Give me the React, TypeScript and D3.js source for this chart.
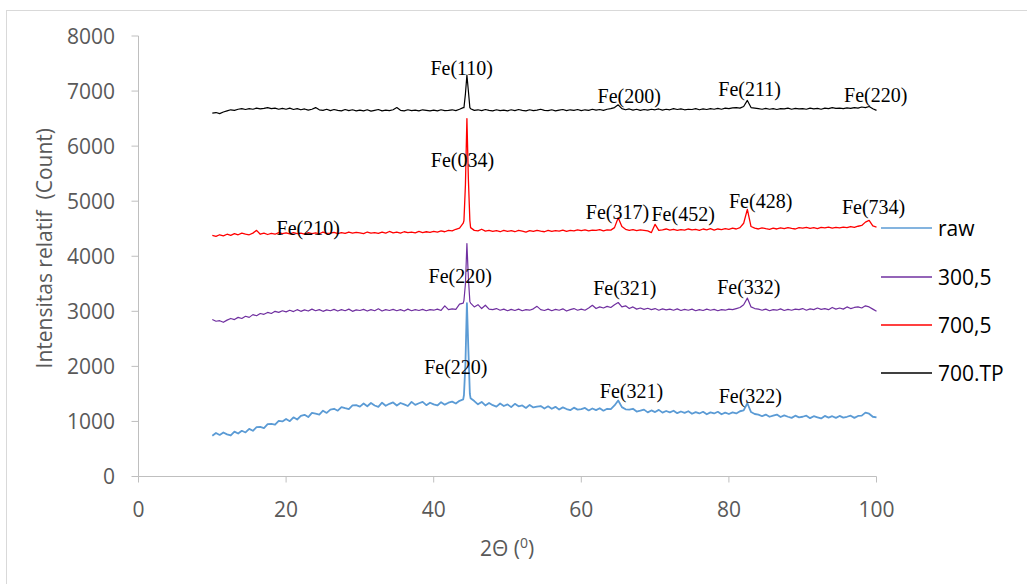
import React from "react";
import * as d3 from "d3";

// 2θ grid: 10 → 100 in 0.5° steps
const THETA_START = 10;
const THETA_STEP = 0.5;

const rawBase = [
  740,790,755,800,765,745,815,780,830,800,
  865,830,895,900,880,950,955,940,1010,1000,
  1045,1005,1075,1035,1100,1120,1080,1155,1140,1125,
  1195,1155,1215,1230,1195,1260,1240,1225,1290,1295,
  1270,1325,1275,1335,1290,1265,1340,1285,1320,1345,
  1290,1335,1310,1280,1355,1300,1330,1355,1295,1340,
  1310,1290,1350,1305,1340,1360,1325,1375,1400,1450,
  1420,1370,1310,1355,1290,1335,1295,1270,1325,1280,
  1310,1260,1320,1275,1290,1245,1300,1255,1270,1280,
  1235,1275,1230,1265,1215,1255,1225,1205,1250,1215,
  1225,1245,1200,1235,1205,1240,1195,1230,1225,1290,
  1380,1260,1220,1215,1230,1180,1195,1215,1165,1200,
  1170,1210,1160,1190,1165,1195,1150,1180,1155,1185,
  1140,1170,1145,1175,1130,1165,1145,1175,1130,1160,
  1135,1165,1145,1185,1200,1330,1170,1135,1125,1095,
  1125,1085,1105,1125,1080,1110,1085,1065,1105,1075,
  1085,1105,1060,1095,1075,1055,1100,1070,1095,1065,
  1100,1070,1085,1105,1065,1100,1105,1160,1140,1085,
  1075,
];
const rawPeak: [number, number][] = [[44.1,1480],[44.3,2050],[44.5,3150],[44.7,2300],[44.9,1500]];

const s300Base = [
  2850,2820,2830,2800,2840,2870,2850,2890,2870,2910,
  2890,2940,2920,2960,2945,2980,2960,3000,2980,3010,
  2990,3020,2995,3030,3000,3025,3005,3040,3010,3030,
  3000,3025,3010,3035,3005,3030,3010,3040,3000,3025,
  3015,3035,3005,3030,3010,3045,3005,3030,3015,3035,
  3010,3030,3005,3040,3010,3030,3015,3035,3010,3030,
  3020,3040,3015,3100,3030,3045,3035,3130,3150,3400,
  3150,3080,3120,3050,3110,3040,3030,3050,3020,3040,
  3010,3035,3015,3040,3010,3030,3020,3045,3090,3030,
  3015,3040,3010,3035,3020,3045,3005,3030,3050,3020,
  3040,3020,3060,3110,3050,3080,3060,3090,3070,3120,
  3160,3080,3100,3050,3080,3040,3060,3035,3055,3030,
  3050,3020,3045,3025,3040,3020,3045,3015,3035,3020,
  3040,3010,3030,3015,3040,3020,3035,3010,3030,3020,
  3040,3030,3050,3070,3120,3240,3080,3050,3040,3020,
  3040,3010,3030,3020,3045,3015,3035,3020,3040,3030,
  3050,3020,3045,3030,3060,3035,3050,3030,3070,3040,
  3060,3040,3080,3050,3070,3080,3060,3100,3080,3040,
  3000,
];
const s300Peak: [number, number][] = [[44.1,3200],[44.3,3500],[44.5,4230],[44.7,3600],[44.9,3180]];

const s700Base = [
  4380,4360,4390,4370,4400,4380,4410,4390,4420,4400,
  4390,4420,4470,4400,4420,4395,4415,4400,4430,4410,
  4425,4405,4430,4410,4420,4400,4430,4410,4425,4405,
  4440,4415,4420,4435,4410,4430,4415,4440,4420,4435,
  4425,4410,4440,4420,4430,4415,4440,4420,4450,4425,
  4440,4420,4445,4430,4440,4425,4450,4430,4445,4435,
  4450,4440,4460,4445,4470,4460,4490,4510,4600,4700,
  4520,4470,4460,4490,4455,4470,4450,4465,4445,4470,
  4450,4465,4445,4470,4455,4440,4465,4450,4470,4455,
  4445,4470,4450,4465,4455,4475,4450,4470,4460,4480,
  4465,4480,4460,4475,4470,4485,4460,4480,4475,4520,
  4700,4540,4490,4470,4485,4465,4480,4470,4460,4430,
  4580,4470,4480,4495,4475,4490,4470,4485,4475,4495,
  4480,4490,4470,4495,4480,4500,4475,4495,4485,4500,
  4490,4510,4495,4520,4600,4850,4540,4510,4495,4515,
  4500,4490,4510,4495,4515,4500,4520,4505,4495,4520,
  4510,4525,4505,4520,4500,4525,4515,4530,4510,4525,
  4515,4530,4520,4540,4525,4545,4560,4620,4650,4550,
  4530,
];
const s700Peak: [number, number][] = [[44.1,4650],[44.3,5300],[44.5,6500],[44.7,5400],[44.9,4650]];

const tpBase = [
  6600,6610,6590,6620,6640,6660,6650,6670,6680,6665,
  6680,6670,6690,6675,6685,6700,6680,6690,6670,6685,
  6670,6690,6665,6680,6660,6675,6655,6670,6700,6660,
  6650,6670,6645,6665,6650,6640,6665,6645,6660,6640,
  6655,6640,6660,6635,6650,6665,6640,6655,6645,6660,
  6700,6650,6640,6660,6645,6655,6640,6660,6650,6640,
  6655,6640,6660,6645,6650,6660,6645,6670,6700,6750,
  6680,6650,6660,6645,6665,6650,6640,6660,6645,6655,
  6640,6660,6645,6665,6650,6640,6660,6645,6655,6670,
  6650,6645,6660,6640,6655,6665,6645,6660,6650,6665,
  6645,6660,6650,6670,6655,6665,6650,6670,6680,6700,
  6750,6680,6660,6675,6655,6670,6650,6665,6655,6670,
  6660,6675,6655,6670,6660,6680,6665,6675,6660,6670,
  6665,6680,6660,6675,6665,6680,6670,6685,6670,6690,
  6680,6695,6700,6690,6720,6830,6700,6690,6680,6670,
  6685,6670,6680,6665,6680,6675,6690,6670,6685,6675,
  6680,6670,6690,6675,6685,6670,6690,6680,6700,6685,
  6690,6680,6695,6685,6700,6690,6710,6700,6720,6680,
  6650,
];
const tpPeak: [number, number][] = [[44.1,6700],[44.3,6950],[44.5,7290],[44.7,7000],[44.9,6700]];

const seriesNames = ["raw", "300,5", "700,5", "700.TP"];
const seriesColors = ["#5b9bd5", "#7030a0", "#ff0000", "#000000"];
const seriesWidths = [1.8, 1.2, 1.3, 1.2];
const seriesBase = [rawBase, s300Base, s700Base, tpBase];
const seriesPeaks = [rawPeak, s300Peak, s700Peak, tpPeak];

// peak annotations: [label, 2θ, count (baseline)]
const annotations: [string, number, number][] = [
  ["Fe(110)", 43.8, 7290],
  ["Fe(200)", 66.5, 6790],
  ["Fe(211)", 82.8, 6910],
  ["Fe(220)", 99.9, 6800],
  ["Fe(034)", 43.9, 5620],
  ["Fe(210)", 23.0, 4390],
  ["Fe(317)", 64.9, 4680],
  ["Fe(452)", 73.8, 4640],
  ["Fe(428)", 84.3, 4880],
  ["Fe(734)", 99.6, 4770],
  ["Fe(220)", 43.6, 3520],
  ["Fe(321)", 65.9, 3300],
  ["Fe(332)", 82.7, 3320],
  ["Fe(220)", 43.0, 1870],
  ["Fe(321)", 66.8, 1430],
  ["Fe(322)", 82.9, 1340],
];

const xTicks = [0, 20, 40, 60, 80, 100];
const yTicks = [0, 1000, 2000, 3000, 4000, 5000, 6000, 7000, 8000];

function buildPoints(base: number[], peak: [number, number][]): [number, number][] {
  const lo = peak[0][0];
  const hi = peak[peak.length - 1][0];
  const pts: [number, number][] = base
    .map((v, i) => [THETA_START + i * THETA_STEP, v] as [number, number])
    .filter((p) => p[0] < lo || p[0] > hi);
  return pts.concat(peak).sort((a, b) => a[0] - b[0]);
}

export default function App() {
  const W = 1027, H = 584;
  const x = d3.scaleLinear().domain([0, 100]).range([138.5, 876.5]);
  const y = d3.scaleLinear().domain([0, 8000]).range([476.5, 36]);
  const line = d3.line<[number, number]>().x((d) => x(d[0])).y((d) => y(d[1]));
  const font = "'Open Sans', sans-serif";
  const axisColor = "#bfbfbf";
  const textColor = "#595959";
  const legendY = [228, 277, 325, 373];

  return (
    <svg width={W} height={H} style={{ position: "absolute", left: 0, top: 0, background: "#fff" }}>
      <rect x={6.5} y={10.5} width={1040} height={600} fill="#fff" stroke="#d9d9d9" strokeWidth={1} />
      {/* axes */}
      <line x1={x(0)} x2={x(0)} y1={y(8000)} y2={y(0)} stroke={axisColor} strokeWidth={1} />
      <line x1={x(0)} x2={x(100)} y1={y(0)} y2={y(0)} stroke={axisColor} strokeWidth={1} />
      {yTicks.map((t) => (
        <g key={"y" + t}>
          <line x1={x(0) - 7} x2={x(0)} y1={y(t)} y2={y(t)} stroke={axisColor} />
          <text x={115} y={y(t) + 7.5} textAnchor="end" fontFamily={font} fontSize={21} fill={textColor}>
            {t}
          </text>
        </g>
      ))}
      {xTicks.map((t) => (
        <g key={"x" + t}>
          <line x1={x(t)} x2={x(t)} y1={y(0)} y2={y(0) + 6} stroke={axisColor} />
          <text x={x(t)} y={517} textAnchor="middle" fontFamily={font} fontSize={21} fill={textColor}>
            {t}
          </text>
        </g>
      ))}
      <text x={507} y={556} textAnchor="middle" fontFamily={font} fontSize={21} fill={textColor}>
        2Θ (<tspan dy={-8} fontSize={14}>0</tspan><tspan dy={8}>)</tspan>
      </text>
      <text
        transform={`translate(52,${(y(8000) + y(0)) / 2 - 8}) rotate(-90)`}
        textAnchor="middle"
        fontFamily={font}
        fontSize={21}
        fill={textColor}
        style={{ whiteSpace: "pre" }}
      >
        {"Intensitas relatif  (Count)"}
      </text>
      {/* series */}
      {seriesBase.map((b, i) => (
        <path
          key={seriesNames[i]}
          d={line(buildPoints(b, seriesPeaks[i])) || ""}
          fill="none"
          stroke={seriesColors[i]}
          strokeWidth={seriesWidths[i]}
          strokeLinejoin="round"
        />
      ))}
      {/* annotations */}
      {annotations.map(([label, tx, ty], i) => (
        <text key={i} x={x(tx)} y={y(ty)} textAnchor="middle" fontFamily="'Liberation Serif', 'Times New Roman', serif" fontSize={20} fill="#000">
          {label}
        </text>
      ))}
      {/* legend */}
      {seriesNames.map((n, i) => (
        <g key={"lg" + n}>
          <line x1={881} x2={932} y1={legendY[i]} y2={legendY[i]} stroke={seriesColors[i]} strokeWidth={1.5} />
          <text x={938} y={legendY[i] + 7.5} fontFamily={font} fontSize={21} fill="#000">
            {n}
          </text>
        </g>
      ))}
    </svg>
  );
}
